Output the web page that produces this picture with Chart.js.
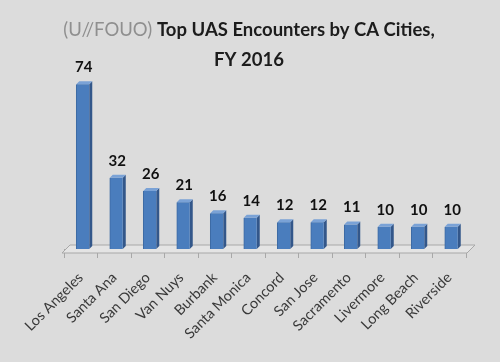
<!DOCTYPE html>
<html lang="en">
<head>
    <meta charset="UTF-8">
    <title>Top UAS Encounters by CA Cities, FY 2016</title>
    <script src="https://cdn.jsdelivr.net/npm/chart.js"></script>
    <style>
        html, body { margin: 0; padding: 0; background: #dcdcdc; }
        #grafico { display: block; }
    </style>
</head>
<body>
    <canvas id="grafico" width="500" height="362"></canvas>

    <script>
        const cidades = ['Los Angeles', 'Santa Ana', 'San Diego', 'Van Nuys', 'Burbank', 'Santa Monica',
            'Concord', 'San Jose', 'Sacramento', 'Livermore', 'Long Beach', 'Riverside'];
        const encontros = [74, 32, 26, 21, 16, 14, 12, 12, 11, 10, 10, 10];

        const marcacao = '(U//FOUO)';
        const tituloLinha1 = 'Top UAS Encounters by CA Cities,';
        const tituloLinha2 = 'FY 2016';

        const FONTE = 'Lato, "Open Sans", sans-serif';
        const PROF = 3; // profundidade do efeito 3D
        const DESLOC = 2; // barras ficam um pouco a direita por causa da perspectiva

        // titulo em duas cores
        const titulo = {
            id: 'titulo',
            afterDraw(chart) {
                const c = chart.ctx;
                c.save();
                c.textBaseline = 'middle';
                c.font = '18.5px ' + FONTE;
                const wMarca = c.measureText(marcacao + ' ').width;
                c.font = 'bold 18.5px ' + FONTE;
                const wResto = c.measureText(tituloLinha1).width;
                const x = 249 - (wMarca + wResto) / 2;
                c.textAlign = 'left';
                c.font = '18.5px ' + FONTE;
                c.fillStyle = '#8f8f8f';
                c.fillText(marcacao + ' ', x, 30);
                c.font = 'bold 18.5px ' + FONTE;
                c.fillStyle = '#1c1c1c';
                c.fillText(tituloLinha1, x + wMarca, 30);
                c.textAlign = 'center';
                c.fillText(tituloLinha2, 249, 60);
                c.restore();
            }
        };

        // piso, laterais das barras e valores
        const efeito3d = {
            id: 'efeito3d',
            beforeDatasetsDraw(chart) {
                const c = chart.ctx;
                const { left, right, bottom } = chart.chartArea;
                c.save();
                c.beginPath();
                c.moveTo(left - 2, bottom + 4);
                c.lineTo(right + 1, bottom + 4);
                c.lineTo(right + 9, bottom - 4);
                c.lineTo(left + 6, bottom - 4);
                c.closePath();
                c.fillStyle = '#e4e4e4';
                c.fill();
                c.strokeStyle = '#a8a8a8';
                c.lineWidth = 1;
                c.stroke();

                c.translate(DESLOC, 0);
                chart.getDatasetMeta(0).data.forEach((bar) => {
                    const x0 = bar.x - bar.width / 2;
                    const x1 = bar.x + bar.width / 2;
                    // lateral
                    c.beginPath();
                    c.moveTo(x1, bar.y);
                    c.lineTo(x1 + PROF, bar.y - PROF);
                    c.lineTo(x1 + PROF, bar.base - PROF);
                    c.lineTo(x1, bar.base);
                    c.closePath();
                    c.fillStyle = '#33578a';
                    c.fill();
                    // topo
                    c.beginPath();
                    c.moveTo(x0, bar.y);
                    c.lineTo(x0 + PROF, bar.y - PROF);
                    c.lineTo(x1 + PROF, bar.y - PROF);
                    c.lineTo(x1, bar.y);
                    c.closePath();
                    c.fillStyle = '#7aa2d6';
                    c.fill();
                });
                c.restore();
            },
            beforeDatasetDraw(chart) {
                chart.ctx.save();
                chart.ctx.translate(DESLOC, 0);
            },
            afterDatasetDraw(chart) {
                chart.ctx.restore();
            },
            afterDatasetsDraw(chart) {
                const c = chart.ctx;
                c.save();
                c.font = 'bold 15px ' + FONTE;
                c.fillStyle = '#111';
                c.textAlign = 'center';
                c.textBaseline = 'middle';
                chart.getDatasetMeta(0).data.forEach((bar, i) => {
                    c.fillText(encontros[i], bar.x + DESLOC + 1, bar.y - 17);
                });
                c.restore();
            }
        };

        new Chart(document.getElementById('grafico'), {
            type: 'bar',
            data: {
                labels: cidades,
                datasets: [{
                    data: encontros,
                    backgroundColor: '#4a7dbd',
                    borderColor: '#3d6aa3',
                    borderWidth: { left: 1, right: 0, top: 0, bottom: 0 },
                    barThickness: 13
                }]
            },
            options: {
                responsive: false,
                animation: false,
                devicePixelRatio: 1,
                layout: { padding: { top: 73, left: 64, right: 34, bottom: 0 } },
                plugins: {
                    legend: { display: false },
                    tooltip: { enabled: false }
                },
                scales: {
                    x: {
                        grid: {
                            display: true,
                            drawOnChartArea: false,
                            drawTicks: true,
                            tickLength: 9,
                            color: '#a8a8a8'
                        },
                        border: { display: false },
                        ticks: {
                            minRotation: 45,
                            maxRotation: 45,
                            autoSkip: false,
                            padding: 11,
                            color: '#3a3a3a',
                            font: { family: FONTE, size: 14.5 }
                        },
                        afterFit(scale) { scale.height = 113; }
                    },
                    y: {
                        display: false,
                        min: 0,
                        max: 79
                    }
                }
            },
            plugins: [titulo, efeito3d]
        });
    </script>
</body>
</html>
